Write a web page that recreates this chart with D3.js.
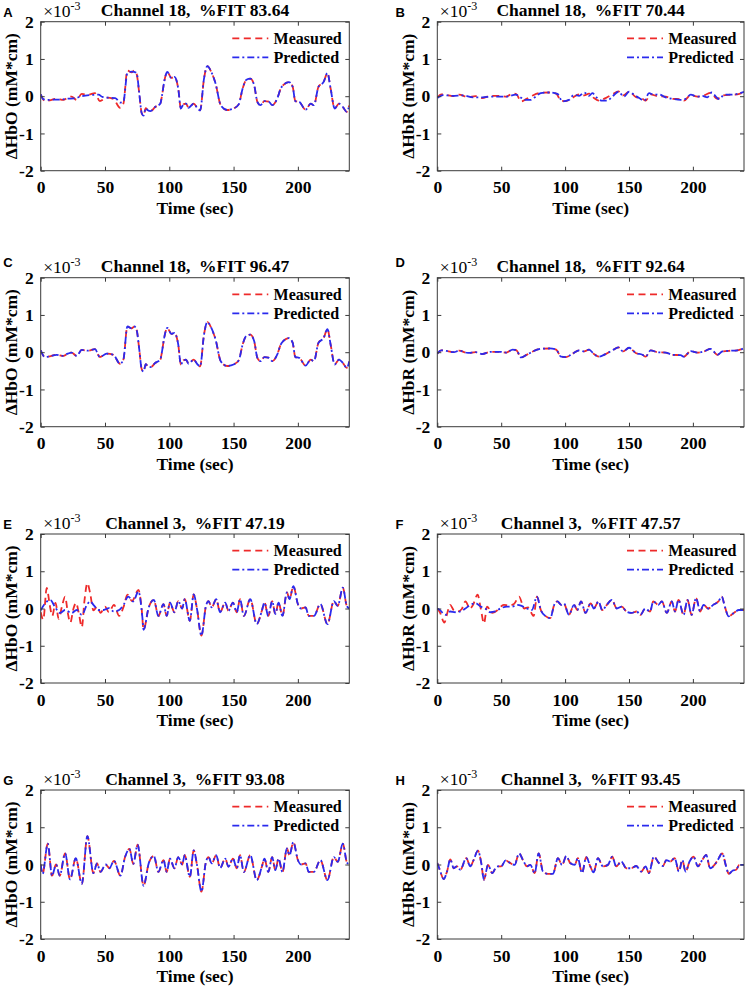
<!DOCTYPE html>
<html>
<head>
<meta charset="utf-8">
<script src="https://cdn.jsdelivr.net/npm/d3@7"></script>
<style>
html,body{margin:0;padding:0;background:#fff;}
svg{display:block;}
text{font-family:"Liberation Serif","Times New Roman",serif;}
</style>
</head>
<body>
<svg id="chart" width="747" height="988"></svg>
<script>
// ---------------- DATA (values in units of 1e-3 mM*cm, time in sec) ----------------
const xTicks = [0, 50, 100, 150, 200];
const yTicks = [-2, -1, 0, 1, 2];
const seriesNames = ["Measured", "Predicted"];

// Channel 18 HbO, measured (panels A and C)
const ch18HbO_t = [0,3.3,7,12.4,17.6,21,24,28,31.9,37,42.2,46,51.3,56.5,61.7,64.3,67.4,70.8,72.8,74.6,76.7,78.5,80,81.7,83,85.5,89,93,94.5,96,98.5,101.6,104,107,109,111,113,115,119,122,124,127,129.6,132.7,136,140,145,150,154,157,160,163,166,168.5,171,174,177.6,180,184,186.6,189,193,196,198,201,206,210,212.5,216,220,223,225.5,228.6,232,235,238,240];
const ch18HbO_meas = [0.05,-0.13,-0.11,-0.07,-0.1,-0.04,-0.01,-0.1,0.06,0.04,0.08,-0.13,-0.04,-0.07,-0.31,-0.2,0.69,0.64,0.69,0.6,0.06,-0.45,-0.52,-0.32,-0.37,-0.4,-0.29,-0.2,0.05,0.38,0.65,0.49,0.52,0.2,-0.33,-0.22,-0.2,-0.31,-0.2,-0.33,-0.38,0.47,0.81,0.65,0.34,-0.24,-0.37,-0.33,-0.22,0.2,0.44,0.47,0.3,-0.15,-0.24,-0.13,-0.15,-0.24,-0.06,0.2,0.31,0.38,0.25,-0.13,-0.15,-0.36,-0.2,-0.24,0.25,0.38,0.62,0.2,-0.33,-0.2,-0.29,-0.42,-0.25];
// Panel A predicted, first part (afterwards identical to measured)
const ch18HbO_predA_t = [0,2,5,10,15.5,20,26,32,39,45,48,52,58,62,64.3,67.4,70.8,72.8,74.6];
const ch18HbO_predA = [0.05,-0.08,-0.1,-0.09,-0.09,-0.07,-0.06,0.0,0.03,0.04,-0.02,-0.04,-0.05,-0.17,-0.15,0.62,0.66,0.65,0.62];

// Channel 18 HbR, measured (panels B and D)
const ch18HbR_t = [0,3,8,13,17,24,30,35,42,49,54,59,62,65.5,69.5,74.7,81,88,93,96.8,100.7,105.9,111,115,118.7,122.6,126.5,131.7,137,141.7,145.4,150,155.3,160.5,163,167,172.2,178.7,184,190.4,193,198.3,203.5,208.5,213.9,219.2,223.1,229.7,234.9,240];
const ch18HbR_meas = [-0.04,0.05,0.03,0.0,0.04,-0.02,0.0,-0.05,0.01,0.01,-0.01,0.07,0.05,-0.14,-0.08,0.02,0.09,0.1,0.07,-0.12,-0.13,-0.04,0.05,0.02,0.07,-0.05,-0.12,-0.05,0.05,0.13,0.02,0.12,-0.02,-0.07,-0.12,0.05,0.0,-0.01,-0.07,-0.08,-0.12,0.03,-0.01,0.02,0.09,-0.07,0.02,0.04,0.05,0.11];
// Panel B predicted
const ch18HbR_predB_t = [0,4.5,12,20,28,35.5,43.5,54,61.5,65.5,68,73,77,81,87.5,94,98,103,107,111,115,118.7,121.3,125.2,129,133,137,141.7,146,150,154,158,162,165.7,169.6,173.5,178.7,184,190.4,194.4,198.3,203.5,207.4,211.3,214.7,218,220.5,224.5,229.7,234.9,240];
const ch18HbR_predB = [-0.05,0.03,0.01,0.02,-0.03,-0.03,-0.01,-0.01,0.04,-0.04,-0.1,-0.1,-0.01,0.08,0.1,0.06,-0.14,-0.1,0.04,0.01,0.1,0.01,0.08,-0.05,-0.12,-0.12,-0.01,0.12,-0.01,0.12,0.04,-0.05,-0.12,0.08,0.04,0.05,-0.03,-0.07,-0.1,-0.07,0.04,-0.01,0.01,-0.03,0.1,-0.01,-0.08,0.04,0.04,0.06,0.12];

// Channel 3 HbO (panel G, both series; tail shared with panel E)
const ch3HbO_t = [0,1.5,5.5,8.8,12,14.8,19,22.8,27.3,32,36.3,41,43.8,46.5,50.5,53.4,57,62,65.6,69,72,75.4,80,84,88,91.5,95.5,98,100.5,104,107,110,112,116,119,121.5,125,128.5,130.5,133,136.5,139.5,143.5,146,149.5,152.5,155,158,163,168,172,174,177,180,182.5,185,188,191.5,193.5,196.5,200,202.5,206,208.5,212.5,217.5,223,228,231,235,238,240];
const ch3HbO_G = [0.0,-0.25,0.56,-0.3,0.0,-0.3,0.3,-0.4,0.17,-0.52,0.76,-0.23,0.03,-0.2,0.0,-0.1,0.1,-0.3,0.2,0.42,0.02,0.53,-0.57,0.03,0.23,-0.2,0.12,-0.2,0.16,-0.1,0.2,0.0,0.25,-0.33,0.38,0.0,-0.73,0.07,0.2,0.03,0.25,-0.1,0.16,-0.06,0.16,-0.1,0.25,-0.2,0.25,-0.42,-0.06,0.16,-0.2,0.2,-0.15,0.16,-0.2,0.43,0.25,0.6,0.12,0.0,0.03,-0.2,-0.2,0.12,-0.42,0.2,0.07,0.56,0.07,0.0];
// Panel E, first 80 s (afterwards identical to the curve above)
const ch3HbO_measE_t = [0,2,4.7,7,9,11.5,14,16.5,19,21,23,25.5,27.5,29.5,32,34,36.3,38.5,41,44,46.5,50,53,57,61,64.5,67.5,71,76,78.5];
const ch3HbO_measE = [-0.1,-0.3,0.55,0.1,-0.2,0.15,-0.28,0.05,0.32,-0.1,-0.38,0.0,0.15,-0.1,-0.5,0.2,0.68,0.4,-0.05,0.05,-0.12,0.05,-0.1,0.1,-0.2,0.05,0.37,0.2,0.5,0.0];
const ch3HbO_predE_t = [0,3.5,7.5,11,15,19,24,28,32,36,38.5,41,45,49,53,57,61,64.5,68,72,76,79];
const ch3HbO_predE = [-0.05,0.14,0.23,0.05,-0.12,-0.04,-0.12,-0.04,-0.17,0.1,0.19,0.1,-0.04,-0.04,0.01,-0.08,-0.04,0.1,0.32,0.19,0.46,-0.21];

// Channel 3 HbR, panel F predicted (tail shared with F measured)
const ch3HbR_F_t = [0,2,6.3,10,14,18,22,26,30,34,37.5,41.5,45.4,49.3,54.5,58.5,62.3,66,70,74,78,81,84.5,88.4,91.5,94,97,99,103,107,109.5,112.5,116,120,122.5,126.2,129,132.7,136.6,140.5,144.4,148,152,156,159,162.7,166.5,169,173,175.7,179.6,183.5,186,188.8,192.7,195.8,199,202.5,205.7,208.3,212,216,220,222.6,225,228,232,236,240];
const ch3HbR_F = [0.0,-0.04,-0.17,-0.08,-0.1,-0.08,0.0,0.1,0.14,0.05,0.0,-0.1,-0.08,0.0,0.05,0.05,0.1,0.07,0.0,-0.04,0.32,-0.04,-0.2,-0.26,0.1,0.19,0.1,0.14,-0.17,0.1,-0.04,0.19,-0.12,0.14,0.0,0.19,-0.04,0.1,0.23,0.0,0.05,-0.08,-0.12,-0.08,-0.17,0.0,-0.08,0.19,0.1,0.19,-0.12,0.19,-0.08,0.23,-0.17,0.23,-0.17,0.28,-0.08,0.1,0.0,0.1,0.19,0.32,0.05,-0.21,-0.12,-0.04,-0.04];
// Panel F measured, first 78 s
const ch3HbR_measF_t = [0,2,5.5,8,10,13,16,19,22,25.5,28,31.5,34,36.5,39,43,47,52,56,60,64,68,71,75.4];
const ch3HbR_measF = [0.0,-0.1,-0.38,-0.1,0.1,-0.05,-0.08,-0.02,0.19,0.0,0.1,0.37,0.0,-0.4,0.05,-0.12,-0.05,0.1,0.08,0.12,0.32,0.0,0.03,-0.2];

// Channel 3 HbR, panel H (both series)
const ch3HbR_H_t = [0,1.9,5,7.6,10.2,12.8,15.4,18,22.7,25.8,28.4,31.8,34.4,36.5,39.7,43,46.7,50,53.5,56.6,60.5,64,67,70.2,72.8,76.2,79.3,82.7,86.6,90.5,94.4,97.6,101,104,107.5,110,113.2,116.6,119.7,122.3,125.7,129.6,133.5,136.9,140,144,147.9,151.8,155.7,159.6,163,165.6,169.5,173.4,176.6,179.2,182.3,185.7,189.1,191.7,194.3,197.4,200.5,203.9,207.3,210.4,213.5,216.9,219.5,222.9,226,228.1,231.2,233.8,236.4,240];
const ch3HbR_H = [0.04,-0.14,-0.39,-0.19,0.14,-0.1,-0.05,-0.14,0.17,-0.05,0.12,0.37,0.04,-0.41,-0.01,-0.23,-0.05,-0.05,0.11,0.05,-0.01,0.3,0.12,-0.05,-0.01,-0.23,0.3,-0.19,-0.25,-0.25,0.17,-0.01,0.23,0.04,-0.01,0.17,-0.23,0.2,-0.05,-0.21,0.17,-0.05,-0.01,0.21,-0.05,0.08,-0.1,-0.1,-0.04,-0.19,-0.05,-0.23,0.21,0.04,-0.04,0.12,0.08,0.17,-0.19,0.12,-0.19,0.08,0.21,-0.05,0.12,0.26,-0.1,-0.01,0.12,0.3,-0.05,-0.25,-0.16,-0.14,-0.01,-0.01];

// ---------------- build series ----------------
const zip = (t, v) => t.map((x, i) => ({t: x, v: v[i]}));
const m18HbO = zip(ch18HbO_t, ch18HbO_meas);
const pA = zip(ch18HbO_predA_t, ch18HbO_predA).concat(m18HbO.filter(d => d.t > 75));
const m18HbR = zip(ch18HbR_t, ch18HbR_meas);
const pB = zip(ch18HbR_predB_t, ch18HbR_predB);
const g3HbO = zip(ch3HbO_t, ch3HbO_G);
const mE = zip(ch3HbO_measE_t, ch3HbO_measE).concat(g3HbO.filter(d => d.t >= 80));
const pE = zip(ch3HbO_predE_t, ch3HbO_predE).concat(g3HbO.filter(d => d.t >= 80));
const pF = zip(ch3HbR_F_t, ch3HbR_F);
const mF = zip(ch3HbR_measF_t, ch3HbR_measF).concat(pF.filter(d => d.t >= 78));
const h3HbR = zip(ch3HbR_H_t, ch3HbR_H);

const panels = [
  {letter:"A", title:"Channel 18,  %FIT 83.64", ylab:"\u0394HbO (mM*cm)", col:0, row:0, meas:m18HbO, pred:pA},
  {letter:"B", title:"Channel 18,  %FIT 70.44", ylab:"\u0394HbR (mM*cm)", col:1, row:0, meas:m18HbR, pred:pB},
  {letter:"C", title:"Channel 18,  %FIT 96.47", ylab:"\u0394HbO (mM*cm)", col:0, row:1, meas:m18HbO, pred:m18HbO},
  {letter:"D", title:"Channel 18,  %FIT 92.64", ylab:"\u0394HbR (mM*cm)", col:1, row:1, meas:m18HbR, pred:m18HbR},
  {letter:"E", title:"Channel 3,  %FIT 47.19", ylab:"\u0394HbO (mM*cm)", col:0, row:2, meas:mE, pred:pE},
  {letter:"F", title:"Channel 3,  %FIT 47.57", ylab:"\u0394HbR (mM*cm)", col:1, row:2, meas:mF, pred:pF},
  {letter:"G", title:"Channel 3,  %FIT 93.08", ylab:"\u0394HbO (mM*cm)", col:0, row:3, meas:g3HbO, pred:g3HbO},
  {letter:"H", title:"Channel 3,  %FIT 93.45", ylab:"\u0394HbR (mM*cm)", col:1, row:3, meas:h3HbR, pred:h3HbR}
];

// ---------------- layout ----------------
const cols = [{x0:40.7, x1:349.3}, {x0:437.3, x1:744}];
const rows = [21.7, 277.7, 534, 790];
const letterY = [16.5, 266.5, 528.5, 785];
const plotH = 149;
const FS = 17.5, LFS = 16;
const redC = "#ee2a2a", blueC = "#2a2aee";
const measDash = "7,4.5", predDash = "7,3,2,3";
const fmt = d => String(d);

const svg = d3.select("#chart");

panels.forEach((p, idx) => {
  const c = cols[p.col];
  const top = rows[p.row], bot = top + plotH;
  const x = d3.scaleLinear().domain([0, 240]).range([c.x0, c.x1]);
  const y = d3.scaleLinear().domain([-2, 2]).range([bot, top]);
  const g = svg.append("g");

  const cid = "clip" + idx;
  svg.append("clipPath").attr("id", cid).append("rect")
    .attr("x", c.x0).attr("y", top).attr("width", c.x1 - c.x0).attr("height", plotH);

  const line = d3.line().x(d => x(d.t)).y(d => y(d.v)).curve(d3.curveMonotoneX);
  const lg = g.append("g").attr("clip-path", `url(#${cid})`);
  lg.append("path").datum(p.meas).attr("d", line).attr("fill", "none")
    .attr("stroke", redC).attr("stroke-width", 1.8).attr("stroke-dasharray", measDash);
  lg.append("path").datum(p.pred).attr("d", line).attr("fill", "none")
    .attr("stroke", blueC).attr("stroke-width", 1.8).attr("stroke-dasharray", predDash);

  const axColor = "#3a3a3a";
  const ax = [
    g.append("g").attr("transform", `translate(0,${bot})`).call(d3.axisBottom(x).tickValues(xTicks).tickFormat(fmt).tickSizeInner(-4).tickSizeOuter(0).tickPadding(6)),
    g.append("g").attr("transform", `translate(0,${top})`).call(d3.axisTop(x).tickValues(xTicks).tickSizeInner(-4).tickSizeOuter(0).tickFormat("")),
    g.append("g").attr("transform", `translate(${c.x0},0)`).call(d3.axisLeft(y).tickValues(yTicks).tickFormat(fmt).tickSizeInner(-4).tickSizeOuter(0).tickPadding(7)),
    g.append("g").attr("transform", `translate(${c.x1},0)`).call(d3.axisRight(y).tickValues(yTicks).tickSizeInner(-4).tickSizeOuter(0).tickFormat(""))
  ];
  ax.forEach(a => {
    a.select(".domain").remove();
    a.selectAll(".tick line").attr("stroke", axColor);
    a.selectAll(".tick text").attr("fill", "#000").style("font-family", '"Liberation Serif","Times New Roman",serif')
      .style("font-size", FS + "px").style("font-weight", "bold");
  });
  ax[0].selectAll(".tick text").attr("dy", "0.95em");
  g.append("rect").attr("x", c.x0).attr("y", top).attr("width", c.x1 - c.x0).attr("height", plotH)
    .attr("fill", "none").attr("stroke", axColor).attr("stroke-width", 1);

  g.append("text").attr("x", (c.x0 + c.x1) / 2).attr("y", bot + 43).attr("text-anchor", "middle")
    .style("font-size", FS + "px").style("font-weight", "bold").text("Time (sec)");
  g.append("text").attr("transform", `translate(${c.x0 - 29.5},${(top + bot) / 2}) rotate(-90)`)
    .attr("text-anchor", "middle").attr("dy", "0.33em")
    .style("font-size", FS + "px").style("font-weight", "bold").text(p.ylab);
  g.append("text").attr("x", (c.x0 + c.x1) / 2).attr("y", top - 5.5).attr("text-anchor", "middle")
    .style("font-size", FS + "px").style("font-weight", "bold").style("white-space", "pre").text(p.title);
  const ex = g.append("text").attr("x", c.x0 + 2.5).attr("y", top - 5).style("font-size", FS + "px");
  ex.append("tspan").text("\u00d710");
  ex.append("tspan").attr("dy", -7).style("font-size", "12px").text("-3");
  g.append("text").attr("x", p.col === 0 ? 3.3 : 395.5).attr("y", letterY[p.row])
    .style("font-family", '"Liberation Sans",Arial,sans-serif').style("font-size", "13px").style("font-weight", "bold")
    .text(p.letter);

  const lgx = c.x1 - 117, lgy = [top + 16.6, top + 35.6];
  [[measDash, redC], [predDash, blueC]].forEach((s, i) => {
    g.append("line").attr("x1", lgx).attr("x2", lgx + 36).attr("y1", lgy[i]).attr("y2", lgy[i])
      .attr("stroke", s[1]).attr("stroke-width", 1.8).attr("stroke-dasharray", s[0]);
    g.append("text").attr("x", c.x1 - 75.7).attr("y", lgy[i]).attr("dy", "0.34em")
      .style("font-size", LFS + "px").style("font-weight", "bold").text(seriesNames[i]);
  });
});
</script>
</body>
</html>
